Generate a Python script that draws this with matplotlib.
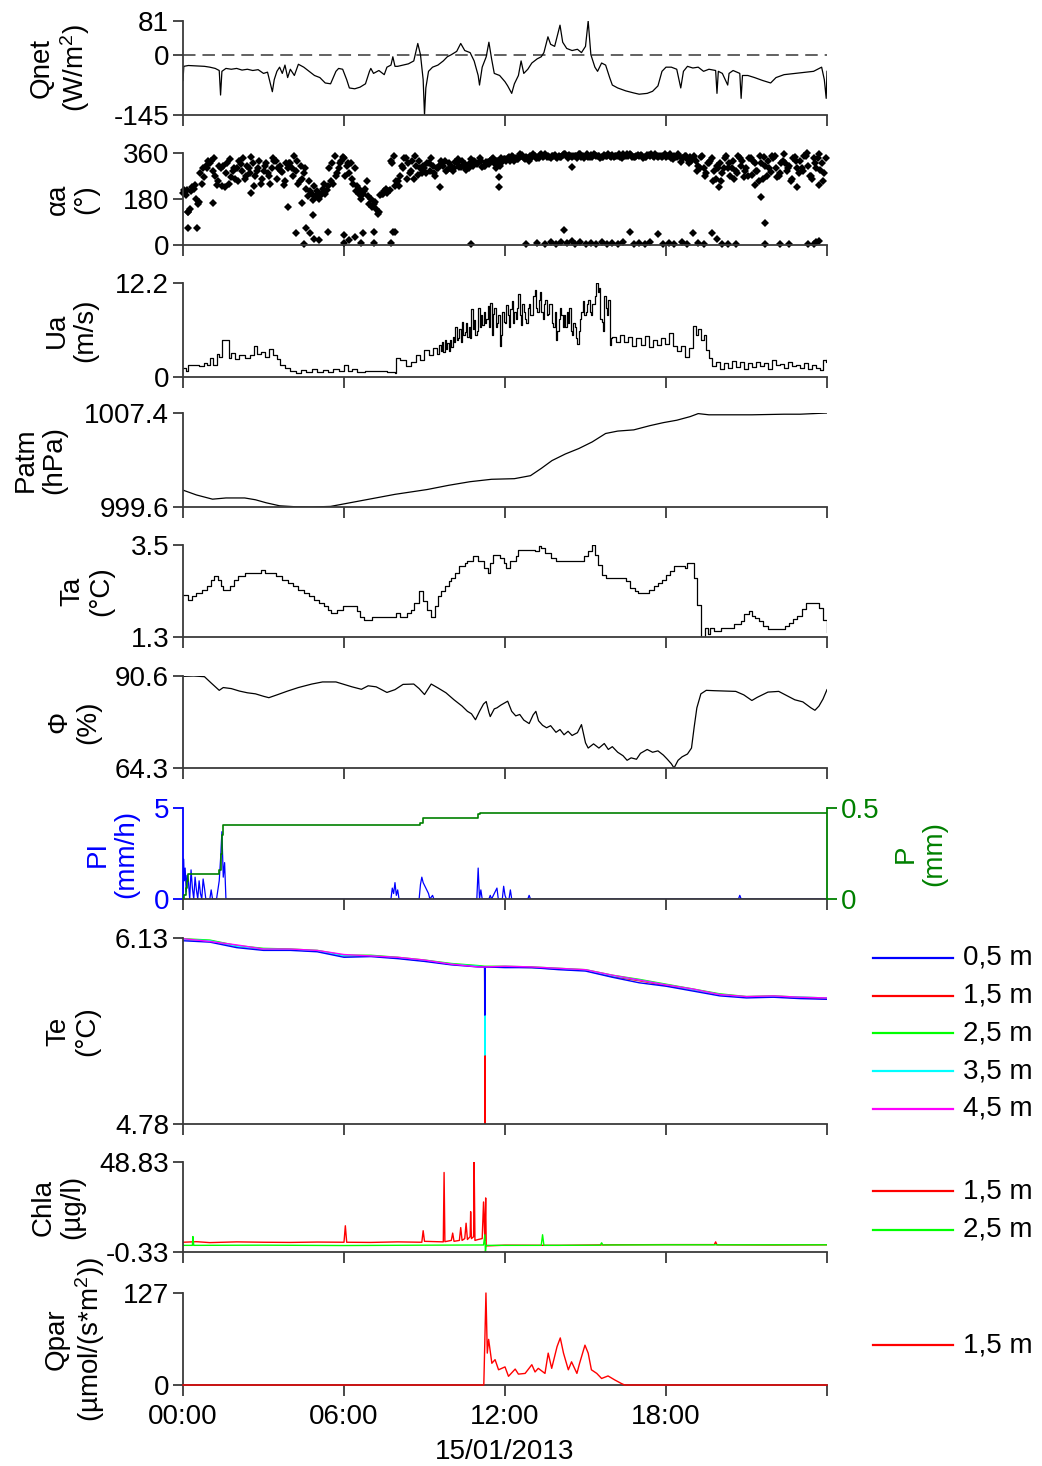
import numpy as np
import matplotlib
matplotlib.use('Agg')
import matplotlib.pyplot as plt
from matplotlib.lines import Line2D

plt.rcParams['font.family'] = ['Liberation Sans', 'DejaVu Sans']
plt.rcParams['font.size'] = 20
plt.rcParams['lines.scale_dashes'] = False
plt.rcParams['mathtext.fontset'] = 'custom'
plt.rcParams['mathtext.rm'] = 'Liberation Sans'
plt.rcParams['mathtext.it'] = 'Liberation Sans:italic'
plt.rcParams['mathtext.bf'] = 'Liberation Sans:bold'

# ---------------- data (hours since 00:00 on 15/01/2013) ----------------
qnet_t = [0.0, 0.03, 0.2, 0.5, 0.8, 1.0, 1.2, 1.35, 1.4, 1.45, 1.6, 1.8, 2.0, 2.2, 2.4, 2.6, 2.8, 3.0,
          3.15, 3.33, 3.4, 3.5, 3.6, 3.7, 3.8, 3.9, 4.0, 4.15, 4.3, 4.5, 4.7, 4.9, 5.1, 5.3, 5.5, 5.6,
          5.7, 5.8, 5.95, 6.1, 6.2, 6.4, 6.6, 6.8, 6.95, 7.0, 7.1, 7.3, 7.5, 7.6, 7.75, 7.82, 7.9, 8.0,
          8.2, 8.4, 8.6, 8.75, 8.85, 8.95, 9.0, 9.05, 9.15, 9.3, 9.5, 9.7, 9.85, 10.0, 10.2, 10.35,
          10.5, 10.7, 10.85, 11.0, 11.05, 11.15, 11.3, 11.4, 11.5, 11.6, 11.8, 12.0, 12.1, 12.25,
          12.35, 12.5, 12.6, 12.7, 12.85, 13.0, 13.2, 13.35, 13.45, 13.6, 13.7, 13.85, 14.05, 14.15,
          14.3, 14.5, 14.7, 14.85, 15.0, 15.1, 15.2, 15.35, 15.45, 15.6, 15.75, 15.9, 16.0, 16.2,
          16.5, 16.8, 17.0, 17.3, 17.5, 17.7, 17.85, 18.0, 18.2, 18.4, 18.55, 18.65, 18.8, 19.0,
          19.2, 19.4, 19.6, 19.85, 19.9, 19.95, 20.1, 20.3, 20.35, 20.5, 20.75, 20.8, 20.85, 21.05,
          21.3, 21.6, 21.9, 22.1, 22.4, 22.8, 23.2, 23.5, 23.8, 23.9, 23.97, 24.0]
qnet_v = [-62, -28, -26, -27, -28, -30, -33, -38, -97, -40, -33, -35, -33, -37, -35, -38, -36, -45,
          -42, -89, -60, -40, -30, -45, -25, -55, -35, -50, -23, -30, -40, -50, -55, -68, -70, -55,
          -40, -33, -35, -60, -80, -82, -78, -70, -40, -33, -45, -38, -48, -30, -25, -5, -28, -28,
          -25, -22, -15, 27, 0, -60, -145, -80, -40, -30, -25, -15, -5, 0, 8, 27,
          10, 5, -15, -50, -73, -30, -5, 30, -10, -45, -50, -65, -75, -93,
          -70, -50, -15, -45, -35, -20, -10, -5, 5, 43, 25, 20, 71, 30,
          15, 10, 13, 5, 20, 81, 0, -30, -40, -20, -25, -55, -73, -80,
          -87, -92, -95, -93, -88, -75, -40, -30, -30, -35, -80, -40, -28, -32,
          -30, -40, -35, -38, -93, -40, -45, -73, -45, -38, -45, -105, -50, -50,
          -55, -62, -68, -55, -48, -45, -42, -40, -30, -60, -105, -40]

alpha_main = [
    [205, 195, 130, 210, 220, 180, 170, 240, 265, 300],
    [320, 290, 270, 250, 300, 310, 280, 240, 265, 300],
    [300, 330, 290, 260, 310, 280, 320, 270, 300, 240],
    [290, 320, 270, 300, 330, 260, 310, 285, 250, 300],
    [320, 270, 290, 240, 310, 280, 220, 250, 200, 230],
    [210, 190, 220, 200, 230, 250, 240, 270, 300, 330],
    [340, 310, 280, 260, 300, 230, 215, 200, 220, 190],
    [180, 160, 140, 130, 200, 210, 205, 215, 320, 230],
    [250, 270, 300, 340, 320, 290, 260, 310, 330, 280],
    [300, 320, 290, 310, 270, 300, 330, 310, 290, 320],
    [310, 300, 320, 305, 330, 315, 300, 320, 310, 325],
    [320, 330, 310, 325, 315, 335, 320, 330, 310, 325],
    [335, 340, 330, 345, 340, 335, 350, 340, 345, 330],
    [345, 350, 340, 352, 345, 355, 348, 342, 350, 345],
    [350, 345, 355, 348, 352, 345, 350, 340, 355, 350],
    [350, 345, 352, 355, 348, 350, 345, 352, 348, 350],
    [352, 348, 350, 345, 355, 350, 348, 352, 345, 350],
    [348, 350, 345, 352, 348, 350, 355, 345, 350, 348],
    [345, 350, 340, 348, 345, 350, 342, 348, 335, 345],
    [340, 330, 310, 345, 300, 280, 320, 340, 290, 310],
    [320, 280, 340, 300, 270, 330, 290, 350, 310, 265],
    [300, 340, 275, 320, 290, 350, 260, 310, 330, 285],
    [340, 300, 270, 320, 355, 290, 310, 260, 345, 300],
    [330, 290, 350, 310, 270, 340, 300, 355, 320, 280]]
alpha_second = [
    [215, 140, 235, 280, 310], [330, 235, 230, 320, 290], [250, 340, 300, 230, 330],
    [310, 240, 330, 290, 320], [300, 330, 260, 190, 175], [180, 240, 300, 350, 320],
    [270, 320, 210, 180, 250], [150, 120, 200, 210, 350], [230, 340, 280, 350, 300],
    [280, 340, 300, 320, 295], [290, 335, 310, 300, 330], [340, 310, 330, 300, 340],
    [330, 350, 338, 352, 342], [355, 340, 350, 345, 352], [345, 355, 350, 348, 345],
    [355, 345, 350, 345, 355], [345, 355, 350, 355, 345], [352, 345, 355, 348, 345],
    [350, 335, 355, 340, 320], [350, 300, 270, 330, 260], [250, 350, 300, 280, 330],
    [270, 330, 250, 345, 300], [350, 280, 320, 250, 330], [300, 360, 260, 340, 250]]
alpha_third = [
    [215, 225, 160, 300, 330], [340, 310, 225, 335, 260], [315, 270, 345, 290, 260],
    [280, 340, 300, 235, 320], [350, 250, 300, 210, 190], [200, 215, 320, 280, 345],
    [320, 240, 200, 210, 160], [170, 195, 220, 330, 250], [310, 260, 330, 275, 310],
    [320, 280, 310, 330, 300], [325, 305, 295, 335, 315], [305, 325, 340, 315, 335],
    [345, 330, 355, 335, 350], [340, 355, 345, 350, 340], [352, 340, 348, 355, 342],
    [345, 352, 340, 350, 345], [350, 342, 355, 345, 352], [340, 352, 345, 350, 355],
    [355, 345, 325, 350, 330], [290, 350, 320, 250, 300], [300, 320, 260, 340, 290],
    [340, 290, 320, 270, 350], [265, 330, 300, 340, 280], [350, 270, 320, 295, 340]]
alpha_out_t = [0.17, 0.17, 0.52, 1.12, 2.54, 3.93, 4.2, 4.5, 4.6, 4.75, 4.9, 5.06, 4.83, 4.43, 5.4,
               6.0, 6.0, 6.17, 6.4, 6.65, 6.7, 7.1, 7.1, 7.75, 7.82, 7.9, 10.74, 9.56, 11.77, 11.77,
               14.5, 12.8, 13.2, 13.5, 13.7, 13.9, 14.1, 14.2, 14.3, 14.5, 14.6, 14.8, 15.0, 15.2,
               15.4, 15.6, 15.8, 16.0, 16.2, 16.4, 16.65, 16.8, 17.0, 17.2, 17.4, 17.7, 17.9, 18.1,
               18.3, 18.6, 18.8, 19.0, 19.2, 19.4, 19.7, 19.9, 20.1, 20.3, 20.6, 21.7, 22.25, 22.6,
               23.3, 23.5, 23.6, 23.7, 19.97, 21.3, 21.55, 21.7, 22.9, 23.7]
alpha_out_v = [130, 65, 68, 163, 202, 147, 46, 5, 65, 46, 25, 20, 117, 163, 50,
               40, 7, 20, 33, 7, 46, 52, 7, 7, 52, 52, 3, 225, 228, 267,
               306, 5, 8, 3, 10, 5, 12, 60, 8, 15, 5, 10, 3, 8,
               5, 12, 3, 8, 5, 10, 50, 5, 8, 3, 10, 42, 5, 8,
               3, 10, 5, 46, 8, 5, 46, 25, 5, 3, 5, 3, 3, 3,
               3, 5, 10, 15, 228, 235, 189, 85, 228, 235]

# wind speed: early part, dense middle part (every 3 min from 09:30), late part
ua_t_early = [0, 0.1, 0.2, 0.4, 0.6, 0.8, 0.9, 1.0, 1.1, 1.25, 1.35, 1.45, 1.6, 1.7, 1.8, 1.95,
              2.1, 2.3, 2.5, 2.65, 2.75, 2.9, 3.05, 3.2, 3.35, 3.5, 3.6, 3.8, 4.0, 4.2, 4.4, 4.6,
              4.8, 5.0, 5.2, 5.4, 5.6, 5.8, 6.0, 6.15, 6.3, 6.5, 6.8, 7.2, 7.6, 7.9, 7.95, 8.1,
              8.3, 8.5, 8.7, 8.85, 9.0, 9.15, 9.3, 9.45]
ua_v_early = [1.2, 0.8, 1.5, 1.6, 1.4, 1.8, 1.5, 2.5, 1.6, 3.0, 2.6, 4.8, 4.8, 2.5, 3.1, 2.4,
              2.9, 2.5, 2.8, 4.0, 3.0, 3.2, 2.6, 3.6, 2.8, 2.3, 1.6, 1.2, 0.8, 0.5, 0.9, 0.6,
              1.0, 0.7, 0.9, 0.6, 1.1, 0.8, 1.5, 0.8, 1.0, 0.7, 0.8, 0.8, 0.7, 0.5, 2.5, 2.2,
              1.4, 2.0, 2.9, 2.2, 3.5, 2.8, 3.8, 3.0]
ua_mid_start, ua_mid_step = 9.5, 0.05
ua_v_mid = [3.0, 4.2, 3.4, 4.5, 3.2, 4.8, 3.6, 4.4, 3.4, 4.8,
            3.9, 5.2, 4.5, 6.5, 4.8, 5.0, 6.2, 4.6, 7.2, 5.5,
            5.8, 7.0, 5.2, 6.5, 5.0, 8.8, 6.2, 7.4, 5.5, 6.0,
            9.0, 6.5, 8.0, 6.8, 8.5, 7.0, 7.5, 9.2, 6.5, 9.6,
            5.5, 8.2, 9.0, 6.5, 7.0, 8.0, 4.0, 5.5, 8.5, 7.2,
            7.0, 9.4, 8.0, 6.5, 8.8, 9.8, 7.0, 8.5, 7.5, 9.0,
            10.8, 8.0, 6.8, 9.5, 8.5, 7.5, 7.0, 9.0, 9.5, 8.0,
            8.0, 10.5, 11.3, 9.0, 8.5, 10.0, 11.0, 8.5, 7.5, 9.5,
            10.0, 8.0, 8.2, 9.5, 9.5, 7.0, 6.5, 8.5, 4.8, 6.0,
            7.5, 9.0, 8.0, 6.5, 8.0, 6.5, 8.5, 7.0, 9.0, 6.0,
            5.5, 7.0, 6.5, 5.0, 4.3, 6.0, 7.5, 8.5, 9.8, 8.0,
            8.5, 9.5, 10.0, 8.5, 8.0, 9.5, 9.5, 10.5, 12.2, 11.0,
            11.5, 7.5, 7.2, 6.0, 10.5, 9.0, 8.0, 10.0, 4.2, 5.0]
ua_t_late = [16.0, 16.15, 16.3, 16.45, 16.6, 16.75, 16.9, 17.05, 17.2, 17.35, 17.5, 17.65,
             17.8, 17.95, 18.1, 18.25, 18.4, 18.55, 18.7, 18.85, 19.0, 19.1, 19.2, 19.3, 19.4,
             19.5, 19.6, 19.7, 19.85, 20.0, 20.15, 20.3, 20.45, 20.6, 20.75, 20.9, 21.05, 21.2,
             21.35, 21.5, 21.65, 21.8, 21.95, 22.1, 22.25, 22.4, 22.55, 22.7, 22.85, 23.0,
             23.15, 23.3, 23.45, 23.6, 23.75, 23.85, 23.95, 24.0]
ua_v_late = [5.2, 4.5, 5.5, 4.6, 5.2, 4.0, 5.0, 4.2, 5.3, 3.9, 4.8, 4.1,
             5.0, 4.3, 5.7, 4.0, 3.4, 4.0, 2.6, 3.8, 6.6, 5.5, 6.2, 4.8, 5.4,
             3.5, 2.5, 1.4, 2.0, 1.0, 1.8, 1.2, 2.1, 1.3, 1.9, 1.1, 1.8, 1.3,
             2.0, 1.4, 1.8, 1.1, 2.2, 1.5, 1.7, 1.2, 1.9, 1.4, 1.6, 1.2,
             1.8, 1.0, 1.5, 1.2, 0.9, 2.2, 2.0, 2.4]

patm_t = [0, 0.5, 1.1, 1.6, 2.3, 2.7, 3.1, 3.6, 4.2, 4.8, 5.5, 6.1, 6.7, 7.3, 7.9, 8.5, 9.1, 9.9,
          10.7, 11.5, 12.35, 12.95, 13.35, 13.75, 14.25, 14.75, 15.25, 15.75, 16.2, 16.8, 17.4,
          17.9, 18.4, 18.9, 19.2, 19.6, 20.5, 21.2, 22.4, 23.0, 23.5, 24.0]
patm_v = [1001.0, 1000.6, 1000.25, 1000.35, 1000.35, 1000.2, 999.95, 999.7, 999.62, 999.6,
          999.65, 999.9, 1000.15, 1000.4, 1000.65, 1000.85, 1001.05, 1001.4, 1001.7, 1001.9,
          1001.95, 1002.2, 1002.8, 1003.45, 1004.0, 1004.45, 1005.0, 1005.7, 1005.9, 1006.0,
          1006.35, 1006.6, 1006.8, 1007.1, 1007.35, 1007.25, 1007.25, 1007.25, 1007.3, 1007.3,
          1007.35, 1007.4]

ta_t = [0, 0.2, 0.35, 0.5, 0.7, 0.9, 1.05, 1.15, 1.3, 1.4, 1.5, 1.75, 1.9, 2.05, 2.3, 2.9, 3.05,
        3.45, 3.7, 3.9, 4.1, 4.3, 4.5, 4.7, 4.9, 5.05, 5.25, 5.4, 5.5, 5.75, 5.95, 6.5, 6.6, 6.75,
        7.05, 7.95, 8.1, 8.35, 8.5, 8.6, 8.8, 8.95, 9.1, 9.25, 9.4, 9.5, 9.6, 9.75, 9.9, 10.0,
        10.15, 10.3, 10.5, 10.6, 10.8, 11.0, 11.2, 11.35, 11.45, 11.55, 11.8, 11.95, 12.05, 12.2,
        12.4, 12.5, 13.1, 13.25, 13.35, 13.5, 13.7, 13.9, 14.95, 15.1, 15.25, 15.35, 15.45, 15.6,
        15.75, 16.5, 16.65, 16.85, 16.95, 17.35, 17.55, 17.7, 17.85, 18.0, 18.15, 18.3, 18.7,
        18.8, 19.05, 19.15, 19.3, 19.45, 19.55, 19.65, 19.8, 20.05, 20.55, 20.8, 20.9, 21.1,
        21.2, 21.3, 21.45, 21.6, 21.8, 22.45, 22.6, 22.75, 22.9, 23.05, 23.2, 23.6, 23.7, 23.85,
        24.0]
ta_v = [2.31, 2.19, 2.27, 2.35, 2.43, 2.51, 2.67, 2.75, 2.67, 2.51, 2.43, 2.51, 2.67, 2.75, 2.83,
        2.91, 2.83, 2.75, 2.67, 2.59, 2.51, 2.43, 2.35, 2.27, 2.19, 2.11, 2.03, 1.95, 1.87, 1.95,
        2.03, 1.91, 1.79, 1.71, 1.79, 1.87, 1.79, 1.87, 1.95, 2.11, 2.39, 2.15, 1.95, 1.79, 2.03,
        2.27, 2.39, 2.51, 2.63, 2.71, 2.83, 2.99, 3.07, 3.11, 3.23, 3.11, 2.95, 2.83, 3.07, 3.27,
        3.19, 3.07, 2.95, 3.11, 3.23, 3.39, 3.35, 3.47, 3.43, 3.31, 3.19, 3.11, 3.23, 3.35, 3.5,
        3.27, 3.03, 2.79, 2.71, 2.63, 2.47, 2.39, 2.35, 2.43, 2.51, 2.59, 2.67, 2.79, 2.87, 2.99,
        2.95, 3.07, 2.7, 2.07, 1.3, 1.52, 1.36, 1.52, 1.44, 1.52, 1.6, 1.68, 1.84, 1.92, 1.8,
        1.76, 1.68, 1.56, 1.48, 1.56, 1.64, 1.72, 1.8, 1.96, 2.11, 2.11, 2.0, 1.7, 1.43]

phi_t = [0, 0.4, 0.8, 1.05, 1.35, 1.5, 1.8, 2.1, 2.4, 2.7, 3.0, 3.2, 3.5, 3.9, 4.3, 4.8, 5.2, 5.7,
         6.0, 6.3, 6.65, 6.9, 7.2, 7.6, 7.9, 8.2, 8.6, 8.8, 9.0, 9.25, 9.5, 9.8, 10.1, 10.4, 10.6,
         10.75, 10.9, 11.05, 11.2, 11.3, 11.4, 11.45, 11.6, 11.7, 11.85, 12.1, 12.25, 12.4, 12.55,
         12.7, 12.9, 13.05, 13.15, 13.25, 13.4, 13.55, 13.7, 13.9, 14.05, 14.2, 14.35, 14.5, 14.7,
         14.85, 15.0, 15.1, 15.3, 15.5, 15.7, 15.85, 16.0, 16.2, 16.4, 16.55, 16.7, 16.9, 17.05,
         17.3, 17.5, 17.7, 17.9, 18.05, 18.2, 18.3, 18.45, 18.6, 18.8, 18.95, 19.05, 19.15, 19.3,
         19.5, 19.8, 20.2, 20.6, 20.9, 21.2, 21.4, 21.8, 22.2, 22.5, 22.8, 23.1, 23.4, 23.55,
         23.7, 23.85, 24.0]
phi_v = [90.5, 90.6, 90.4, 88.6, 86.5, 87.3, 87.0, 86.3, 85.8, 85.5, 84.8, 84.4, 85.2, 86.3, 87.3,
         88.3, 88.9, 88.9, 88.2, 87.5, 86.8, 87.8, 87.5, 85.9, 86.7, 88.2, 88.3, 87.0, 85.3, 88.3,
         87.2, 85.8, 83.8, 82.0, 80.5, 79.8, 78.1, 80.5, 82.6, 83.3, 80.2, 79.0, 81.2, 81.5, 82.3,
         83.4, 80.5, 79.2, 79.6, 78.0, 77.0, 79.5, 80.5, 77.8, 76.5, 75.8, 76.4, 74.5, 75.3, 73.8,
         74.8, 73.6, 74.4, 76.7, 71.5, 70.0, 71.2, 70.0, 71.3, 69.6, 70.4, 68.8, 67.8, 66.5, 67.2,
         66.8, 68.5, 69.6, 68.8, 69.2, 68.0, 66.8, 65.5, 64.3, 66.5, 67.5, 68.3, 70.0, 76.0, 81.5,
         85.5, 86.5, 86.4, 86.3, 86.2, 85.2, 83.6, 84.5, 86.0, 86.2, 85.0, 83.8, 83.2, 81.5, 80.8,
         82.0, 84.0, 86.7]

pl_t = [0.0, 0.02, 0.05, 0.08, 0.12, 0.15, 0.2, 0.25, 0.3, 0.35, 0.4, 0.45, 0.5, 0.55, 0.6, 0.65,
        0.7, 0.75, 0.8, 0.85, 1.0, 1.05, 1.1, 1.25, 1.3, 1.35, 1.4, 1.45, 1.5, 1.55, 1.6, 7.75,
        7.8, 7.85, 7.9, 7.95, 8.0, 8.05, 8.8, 8.85, 8.9, 8.95, 9.05, 9.15, 9.2, 9.3, 9.35, 10.95,
        11.0, 11.05, 11.1, 11.15, 11.4, 11.45, 11.5, 11.7, 11.75, 11.9, 11.95, 12.0, 12.05, 12.15,
        12.2, 12.25, 12.85, 12.9, 12.95, 20.7, 20.75, 20.8, 24.0]
pl_v = [0, 2.2, 1.0, 1.7, 0.4, 1.3, 1.0, 0, 1.6, 0.6, 0, 1.2, 0.5, 0, 1.0, 0.3,
        0, 1.1, 0.6, 0, 0, 0.5, 0, 0, 0.5, 1.0, 2.2, 3.7, 1.2, 2.0, 0, 0,
        0.6, 0.3, 0.9, 0.2, 0.5, 0, 0, 0.8, 1.2, 0.9, 0.6, 0.3, 0, 0.2, 0, 0,
        1.7, 0, 0.5, 0, 0, 0.2, 0, 0.6, 0, 0, 0.7, 0.2, 0, 0,
        0.5, 0, 0, 0.2, 0, 0, 0.2, 0, 0]
p_t = [0, 0.05, 0.1, 0.15, 0.2, 1.35, 1.4, 1.45, 1.5, 8.85, 8.95, 11.0, 11.05, 24.0]
p_v = [0, 0.02, 0.06, 0.10, 0.14, 0.16, 0.25, 0.35, 0.405, 0.42, 0.447, 0.465, 0.473, 0.473]

te_t = [0, 1, 2, 3, 4, 5, 6, 7, 8, 9, 10, 11, 11.24, 11.25, 11.26,
        12, 13, 14, 15, 16, 17, 18, 19, 20, 21, 22, 23, 24]
te_depths = ['0,5 m', '1,5 m', '2,5 m', '3,5 m', '4,5 m']
te_05 = [6.11, 6.10, 6.06, 6.04, 6.04, 6.03, 5.99, 5.995, 5.98, 5.96, 5.935, 5.92, 5.92, 5.57, 5.92,
         5.915, 5.915, 5.90, 5.89, 5.845, 5.805, 5.78, 5.745, 5.71, 5.695, 5.70, 5.69, 5.685]
te_15 = [6.12, 6.11, 6.07, 6.05, 6.045, 6.035, 6.00, 6.00, 5.985, 5.965, 5.94, 5.925, 5.92, 4.78, 5.92,
         5.92, 5.915, 5.905, 5.895, 5.85, 5.82, 5.785, 5.755, 5.72, 5.70, 5.705, 5.695, 5.69]
te_25 = [6.125, 6.115, 6.075, 6.055, 6.05, 6.04, 6.005, 6.005, 5.99, 5.97, 5.945, 5.93, 5.925, 5.925, 5.925,
         5.925, 5.92, 5.91, 5.90, 5.86, 5.83, 5.795, 5.76, 5.725, 5.705, 5.71, 5.70, 5.695]
te_35 = [6.12, 6.11, 6.07, 6.05, 6.045, 6.035, 6.0, 6.0, 5.985, 5.965, 5.94, 5.925, 5.92, 5.28, 5.92,
         5.92, 5.915, 5.905, 5.895, 5.855, 5.825, 5.79, 5.755, 5.72, 5.70, 5.705, 5.70, 5.695]
te_45 = [6.125, 6.105, 6.08, 6.05, 6.05, 6.04, 6.01, 6.0, 5.99, 5.97, 5.94, 5.92, 5.92, 5.92, 5.92,
         5.925, 5.92, 5.91, 5.90, 5.86, 5.825, 5.79, 5.76, 5.72, 5.705, 5.71, 5.70, 5.695]

chla15_t = [0, 0.5, 1, 2, 3, 4, 5, 6.0, 6.05, 6.1, 7, 8, 8.9, 8.95, 9.0, 9.7, 9.73, 9.76, 10.0,
            10.05, 10.1, 10.3, 10.35, 10.4, 10.5, 10.55, 10.6, 10.7, 10.72, 10.75, 10.83, 10.85,
            10.88, 11.0, 11.15, 11.2, 11.25, 11.28, 11.3, 12, 14, 16, 18, 19.8, 19.85, 19.9, 22, 24]
chla15_v = [5.0, 5.3, 4.8, 5.2, 5.0, 4.9, 5.1, 5.0, 14.0, 5.0, 4.9, 5.2, 5.0, 11.3, 5.5, 5.2, 43.1,
            5.3, 6.0, 10.0, 5.5, 6.0, 13.0, 6.0, 7.0, 15.4, 6.5, 8.0, 21.7, 7.0, 8.0, 48.8, 6.0,
            6.5, 7.0, 27.0, 6.0, 29.2, 3.0, 3.4, 3.3, 3.6, 3.7, 3.7, 5.2, 3.6, 3.5, 3.6]
chla25_t = [0, 0.35, 0.37, 0.4, 3, 6, 9, 11.2, 11.25, 11.27, 11.3, 13.35, 13.4, 13.45, 15.55,
            15.6, 15.65, 18, 24]
chla25_v = [3.3, 3.3, 8.1, 3.3, 3.4, 3.2, 3.4, 3.5, 9.1, -0.33, 3.3, 3.3, 9.1, 3.3, 3.4, 4.7, 3.5,
            3.6, 3.6]

qpar_t = [0, 11.21, 11.29, 11.34, 11.39, 11.51, 11.63, 11.76, 12.0, 12.13, 12.38, 12.5, 12.75,
          13.0, 13.12, 13.24, 13.49, 13.61, 13.74, 13.94, 14.06, 14.18, 14.36, 14.48, 14.68,
          14.78, 14.98, 15.1, 15.22, 15.42, 15.6, 15.84, 16.09, 16.34, 16.46, 24]
qpar_v = [0, 0, 127, 44, 63, 30, 35, 21, 25, 12, 22, 15, 16, 28, 18, 23, 16, 44, 23, 53, 65, 44,
          21, 32, 16, 30, 55, 44, 21, 16, 9, 12.5, 7, 2, 0, 0]

hour_ticks = [0, 6, 12, 18, 24]
hour_labels = ['00:00', '06:00', '12:00', '18:00', '']
date_label = '15/01/2013'

# ---------------- layout ----------------
W, H = 1042, 1466
fig = plt.figure(figsize=(W / 100, H / 100), dpi=100)
AXC = '#3a3a3a'
BLUE = '#0000ff'
DGREEN = '#008000'
X0, X1 = 183, 827


def add_panel(top, bottom, yticks, ylabels):
    ax = fig.add_axes([X0 / W, 1 - bottom / H, (X1 - X0) / W, (bottom - top) / H])
    ax.set_xlim(0, 24)
    ax.set_ylim(yticks[0], yticks[-1])
    for s in ['top', 'right']:
        ax.spines[s].set_visible(False)
    for s in ['left', 'bottom']:
        ax.spines[s].set_color(AXC)
        ax.spines[s].set_linewidth(1.3)
    ax.set_xticks(hour_ticks)
    ax.tick_params(axis='x', direction='out', length=8, width=1.3, color=AXC,
                   labelbottom=False, pad=6, labelsize=20)
    ax.tick_params(axis='y', direction='out', length=7, width=1.3, color=AXC,
                   pad=3, labelsize=20)
    ax.set_yticks(yticks)
    ax.set_yticklabels(ylabels)
    ax.patch.set_alpha(0)
    return ax


def ylabel(cx, top, bottom, text, color='black'):
    fig.text(cx / W, 1 - (top + bottom) / 2 / H, text, rotation=90, ha='center',
             va='center', fontsize=20, color=color, linespacing=1.15)


def legend_entry(y, color, text):
    fig.add_artist(Line2D([873 / W, 953 / W], [1 - y / H, 1 - y / H], color=color, lw=1.6))
    fig.text(963 / W, 1 - y / H, text, ha='left', va='center', fontsize=20)


# 1 Qnet
ax = add_panel(21, 115, [-145, 0, 81], ['-145', '0', '81'])
ax.axhline(0, color='#555555', lw=1.3, dashes=(9, 5))
ax.plot(qnet_t, qnet_v, color='black', lw=0.9)
ylabel(60, 21, 115, 'Qnet\n(W/m$^2$)')

# 2 wind direction
ax = add_panel(153, 245, [0, 180, 360], ['0', '180', '360'])
MS = 4.4
for h, row in enumerate(alpha_main):
    ax.plot([h + i / 10 for i in range(len(row))], row, 'D', ms=MS, color='black', mew=0,
            clip_on=False)
for h, row in enumerate(alpha_second):
    ax.plot([h + 0.05 + i / 5 for i in range(len(row))], row, 'D', ms=MS, color='black', mew=0,
            clip_on=False)
for h, row in enumerate(alpha_third):
    ax.plot([h + 0.15 + i / 5 for i in range(len(row))], row, 'D', ms=MS, color='black', mew=0,
            clip_on=False)
ax.plot(alpha_out_t, alpha_out_v, 'D', ms=MS, color='black', mew=0, clip_on=False)
ylabel(72, 153, 245, 'αa\n(°)')

# 3 wind speed
ax = add_panel(283, 377, [0, 12.2], ['0', '12.2'])
ua_t = ua_t_early + [ua_mid_start + i * ua_mid_step for i in range(len(ua_v_mid))] + ua_t_late
ua_v = ua_v_early + ua_v_mid + ua_v_late
ax.plot(ua_t, ua_v, color='black', lw=0.9, drawstyle='steps-post')
ylabel(71, 283, 377, 'Ua\n(m/s)')

# 4 pressure
ax = add_panel(413, 507, [999.6, 1007.4], ['999.6', '1007.4'])
ax.plot(patm_t, patm_v, color='black', lw=0.9)
ylabel(40, 413, 507, 'Patm\n(hPa)')

# 5 air temperature
ax = add_panel(545, 637, [1.3, 3.5], ['1.3', '3.5'])
ax.plot(ta_t, ta_v, color='black', lw=0.9, drawstyle='steps-post')
ylabel(87, 545, 637, 'Ta\n(°C)')

# 6 humidity
ax = add_panel(676, 768, [64.3, 90.6], ['64.3', '90.6'])
ax.plot(phi_t, phi_v, color='black', lw=0.9)
ylabel(74, 676, 768, 'Φ\n(%)')

# 7 precipitation
ax = add_panel(808, 899, [0, 5], ['0', '5'])
ax.spines['left'].set_color(BLUE)
ax.tick_params(axis='y', colors=BLUE)
ax.plot(pl_t, pl_v, color=BLUE, lw=0.9)
axr = ax.twinx()
axr.set_xlim(0, 24)
axr.set_ylim(0, 0.5)
for s in ['top', 'left', 'bottom']:
    axr.spines[s].set_visible(False)
axr.spines['right'].set_color(DGREEN)
axr.spines['right'].set_linewidth(1.3)
axr.set_yticks([0, 0.5])
axr.set_yticklabels(['0', '0.5'])
axr.tick_params(axis='y', direction='out', length=7, width=1.3, colors=DGREEN, pad=3,
                labelsize=20)
axr.plot(p_t, p_v, color=DGREEN, lw=1.2, drawstyle='steps-post')
ylabel(112, 808, 899, 'PI\n(mm/h)', color=BLUE)
ylabel(920, 808, 899, 'P\n(mm)', color=DGREEN)

# 8 water temperature
ax = add_panel(938, 1124, [4.78, 6.13], ['4.78', '6.13'])
te_series = [te_05, te_15, te_25, te_35, te_45]
te_colors = ['#0000ff', '#ff0000', '#00ff00', '#00ffff', '#ff00ff']
te_z = [2.4, 2.0, 2.1, 2.2, 2.5]
for vals, col, z in zip(te_series, te_colors, te_z):
    ax.plot(te_t, vals, color=col, lw=1.0, zorder=z)
for i, (lab, col) in enumerate(zip(te_depths, te_colors)):
    legend_entry(958 + i * 37.7, col, lab)
ylabel(73, 938, 1124, 'Te\n(°C)')

# 9 chlorophyll
ax = add_panel(1162, 1252, [-0.33, 48.83], ['-0.33', '48.83'])
ax.plot(chla15_t, chla15_v, color='#ff0000', lw=1.0, zorder=2)
ax.plot(chla25_t, chla25_v, color='#00ff00', lw=1.0, zorder=2.1)
legend_entry(1191, '#ff0000', '1,5 m')
legend_entry(1230, '#00ff00', '2,5 m')
ylabel(58, 1162, 1252, 'Chla\n(µg/l)')

# 10 PAR
ax = add_panel(1293, 1385, [0, 127], ['0', '127'])
ax.plot(qpar_t, qpar_v, color='#ff0000', lw=1.0, zorder=3, clip_on=False)
ax.tick_params(axis='x', labelbottom=True)
ax.set_xticklabels(hour_labels)
ax.set_xlabel(date_label, fontsize=20, labelpad=6)
legend_entry(1345, '#ff0000', '1,5 m')
ylabel(75, 1293, 1385, 'Qpar\n(µmol/(s*m$^2$))')

fig.savefig('out.png', dpi=100)
